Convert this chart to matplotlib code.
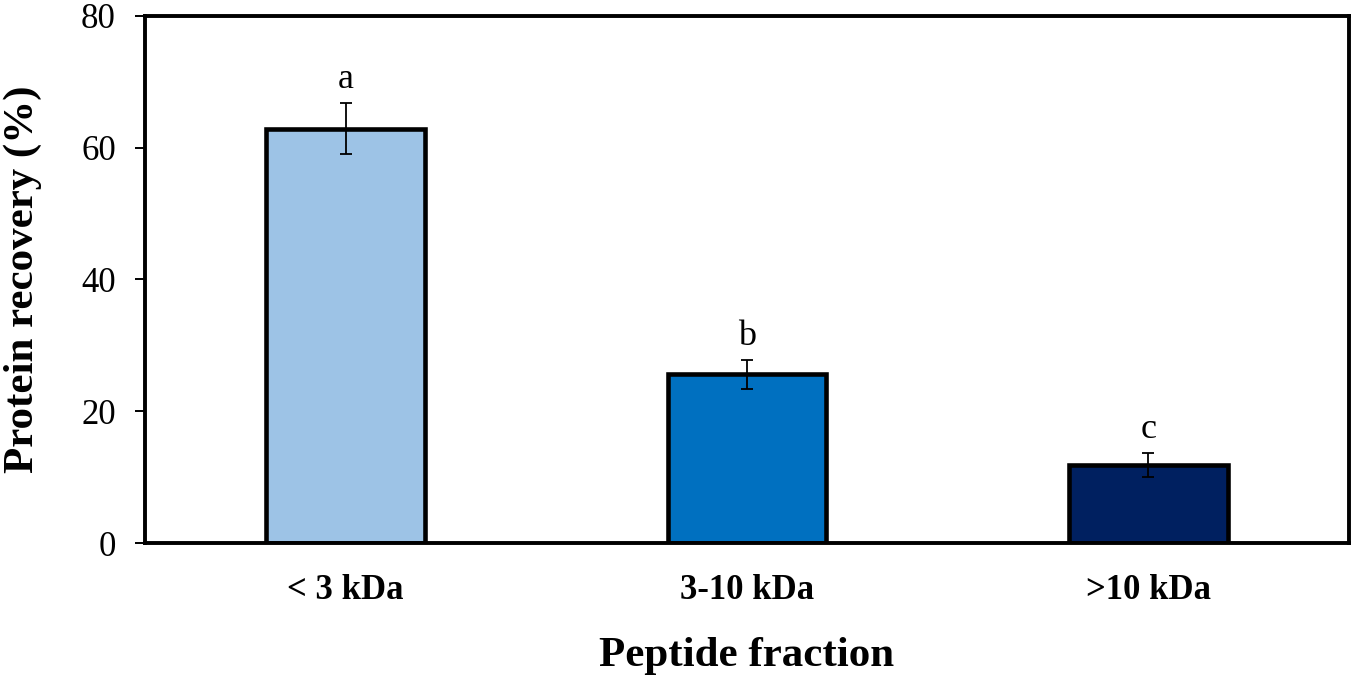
import numpy as np
import matplotlib
matplotlib.use("Agg")
import matplotlib.pyplot as plt

fractions = ["< 3 kDa", "3-10 kDa", ">10 kDa"]
recovery = [62.9, 25.6, 11.8]
errors = [3.9, 2.2, 1.8]
letters = ["a", "b", "c"]
colors = ["#9DC3E6", "#0070C0", "#002060"]

plt.rcParams['font.family'] = ['Liberation Serif', 'DejaVu Serif']

fig = plt.figure(figsize=(13.54, 6.81), dpi=100)
ax = fig.add_axes([0.1071, 0.2026, 0.8892, 0.774])

x = np.arange(len(fractions))
ax.bar(x, recovery, width=0.395, color=colors, edgecolor='black', linewidth=3.3, zorder=2)
ax.errorbar(x, recovery, yerr=errors, fmt='none', ecolor='black', elinewidth=1.3,
            capsize=4, capthick=1.3, zorder=3)

for xi, v, e, lab in zip(x, recovery, errors, letters):
    ax.annotate(lab, (xi, v + e), xytext=(0, 5), textcoords='offset points',
                ha='center', va='bottom', fontsize=26)

ax.set_xlim(-0.5, 2.5)
ax.set_ylim(0, 80)
ax.set_yticks([0, 20, 40, 60, 80])
ax.tick_params(axis='y', labelsize=25, length=7, width=1.4, direction='out', pad=14)
ax.tick_params(axis='x', length=0, labelsize=25, pad=22)
ax.set_xticks(x)
ax.set_xticklabels(fractions, fontweight='bold')
for s in ax.spines.values():
    s.set_linewidth(2.8)

ax.set_ylabel("Protein recovery (%)", fontsize=31, fontweight='bold', labelpad=28)
ax.set_xlabel("Peptide fraction", fontsize=31, fontweight='bold', labelpad=22)

fig.savefig("out.png", dpi=100)
